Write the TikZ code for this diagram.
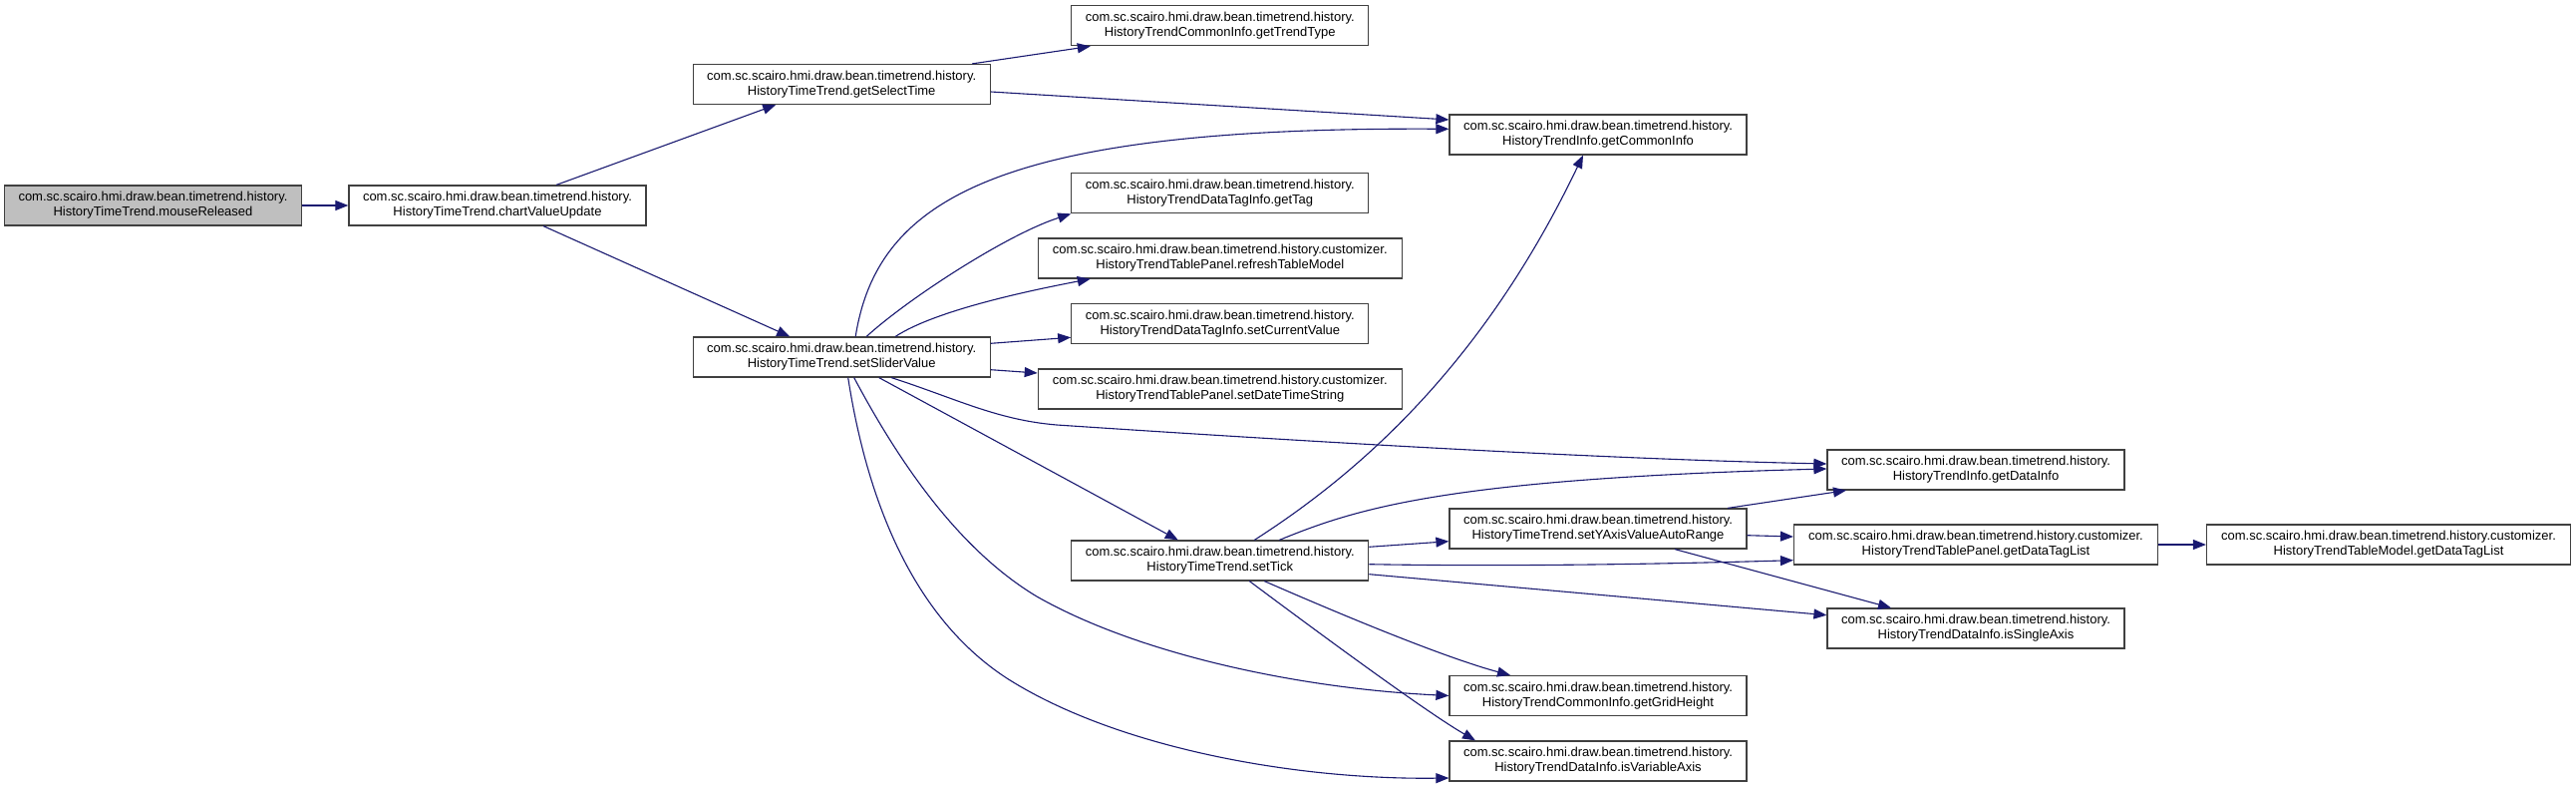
\documentclass[tikz,border=0pt]{standalone}
\usepackage{fontspec}
\setmainfont{Liberation Sans}
\usetikzlibrary{arrows.meta}
\definecolor{edgecol}{HTML}{191970}
\definecolor{boxline}{HTML}{404040}
\definecolor{rootfill}{HTML}{BFBFBF}
\newcommand\pkgpre{com.sc.scairo.hmi.draw.bean.timetrend.history.}
\newcommand\pkgcus{com.sc.scairo.hmi.draw.bean.timetrend.history.customizer.}
\tikzset{
  fn/.style={draw=boxline, line width=1.2pt, fill=white, rectangle, inner sep=0pt,
    minimum width=298pt, minimum height=40pt, align=center,
    font=\fontsize{13}{15}\selectfont},
  fnwide/.style={fn, minimum width=365pt},
  rootfn/.style={fn, fill=rootfill},
  call/.style={draw=edgecol, line width=1.1pt,
    -{Triangle[length=13pt,width=10pt]}, color=edgecol}
}
\begin{document}
\begin{tikzpicture}[x=1pt,y=-1pt]
\useasboundingbox[fill=white] (0,0) rectangle (2584,789);

% nodes
\node[rootfn] (mr)   at (153.5,206) {\pkgpre\\HistoryTimeTrend.mouseReleased};
\node[fn]     (cvu)  at (499,206)   {\pkgpre\\HistoryTimeTrend.chartValueUpdate};
\node[fn]     (gst)  at (844.2,84.5) {\pkgpre\\HistoryTimeTrend.getSelectTime};
\node[fn]     (ssv)  at (844.2,358) {\pkgpre\\HistoryTimeTrend.setSliderValue};
\node[fn]     (gtt)  at (1223.8,25.8) {\pkgpre\\HistoryTrendCommonInfo.getTrendType};
\node[fn]     (gci)  at (1603,135)  {\pkgpre\\HistoryTrendInfo.getCommonInfo};
\node[fn]     (gtag) at (1223.8,193.8) {\pkgpre\\HistoryTrendDataTagInfo.getTag};
\node[fnwide] (rtm)  at (1223.8,259) {\pkgcus\\HistoryTrendTablePanel.refreshTableModel};
\node[fn]     (scv)  at (1223.8,324.5) {\pkgpre\\HistoryTrendDataTagInfo.setCurrentValue};
\node[fnwide] (sdts) at (1223.8,390) {\pkgcus\\HistoryTrendTablePanel.setDateTimeString};
\node[fn]     (gdi)  at (1982,471)  {\pkgpre\\HistoryTrendInfo.getDataInfo};
\node[fn]     (stick) at (1223.8,562) {\pkgpre\\HistoryTimeTrend.setTick};
\node[fn]     (syar) at (1603,530)  {\pkgpre\\HistoryTimeTrend.setYAxisValueAutoRange};
\node[fnwide] (pgdl) at (1982,546)  {\pkgcus\\HistoryTrendTablePanel.getDataTagList};
\node[fnwide] (mgdl) at (2396,546)  {\pkgcus\\HistoryTrendTableModel.getDataTagList};
\node[fn]     (isa)  at (1982,630)  {\pkgpre\\HistoryTrendDataInfo.isSingleAxis};
\node[fn]     (ggh)  at (1603,697.5) {\pkgpre\\HistoryTrendCommonInfo.getGridHeight};
\node[fn]     (iva)  at (1603,763)  {\pkgpre\\HistoryTrendDataInfo.isVariableAxis};

% edges
\draw[call] (mr.east) -- (cvu.west);
\draw[call] ([xshift=59pt]cvu.north) -- ([xshift=-66pt]gst.south);
\draw[call] ([xshift=46pt]cvu.south) -- ([xshift=-52pt]ssv.north);
\draw[call] ([xshift=131pt]gst.north) -- ([xshift=-130pt]gtt.south);
\draw[call] ([yshift=-7.5pt]gst.east) -- ([yshift=15pt]gci.west);
\draw[call] ([xshift=14pt]ssv.north) .. controls (880,200) and (1000,127) .. ([yshift=5.7pt]gci.west);
\draw[call] ([xshift=25pt]ssv.north) .. controls (910,300) and (1010,235) .. (gtag.south west);
\draw[call] ([xshift=54pt]ssv.north) .. controls (940,310) and (1040,290) .. ([xshift=-130pt]rtm.south);
\draw[call] ([yshift=13.7pt]ssv.east) -- ([yshift=-13.8pt]scv.west);
\draw[call] ([yshift=-12.7pt]ssv.east) -- ([yshift=16pt]sdts.west);
\draw[call] ([xshift=50pt]ssv.south) .. controls (960,400) and (1000,421) .. (1060,426)
            .. controls (1300,442) and (1600,460) .. ([yshift=6pt]gdi.west);
\draw[call] ([xshift=37.5pt]ssv.south) -- ([xshift=-42pt]stick.north);
\draw[call] ([xshift=12.5pt]ssv.south) .. controls (900,460) and (960,550) .. (1040,598)
            .. controls (1140,655) and (1300,690) .. (ggh.west);
\draw[call] ([xshift=6.5pt]ssv.south) .. controls (868,490) and (910,615) .. (1010,680)
            .. controls (1120,750) and (1300,782) .. ([yshift=-17pt]iva.west);
\draw[call] ([xshift=34.5pt]stick.north) .. controls (1370,470) and (1490,360) .. ([xshift=-15pt]gci.south);
\draw[call] ([xshift=59.5pt]stick.north) .. controls (1360,510) and (1450,480) .. ([yshift=1pt]gdi.west);
\draw[call] ([yshift=13.7pt]stick.east) -- ([yshift=-12.7pt]syar.west);
\draw[call] ([yshift=-3.7pt]stick.east) .. controls (1500,568) and (1650,566) .. ([yshift=-15.7pt]pgdl.west);
\draw[call] ([yshift=-13.7pt]stick.east) -- ([yshift=13.3pt]isa.west);
\draw[call] ([xshift=29.5pt]stick.south) .. controls (1400,692) and (1450,725) .. ([xshift=-123pt]iva.north);
\draw[call] ([xshift=44.5pt]stick.south) .. controls (1400,640) and (1470,665) .. ([xshift=-88pt]ggh.north);
\draw[call] ([xshift=130pt]syar.north) -- ([xshift=-130pt]gdi.south);
\draw[call] ([yshift=-6.7pt]syar.east) -- ([yshift=8pt]pgdl.west);
\draw[call] ([xshift=77pt]syar.south) -- ([xshift=-85pt]isa.north);
\draw[call] (pgdl.east) -- (mgdl.west);
\end{tikzpicture}
\end{document}
